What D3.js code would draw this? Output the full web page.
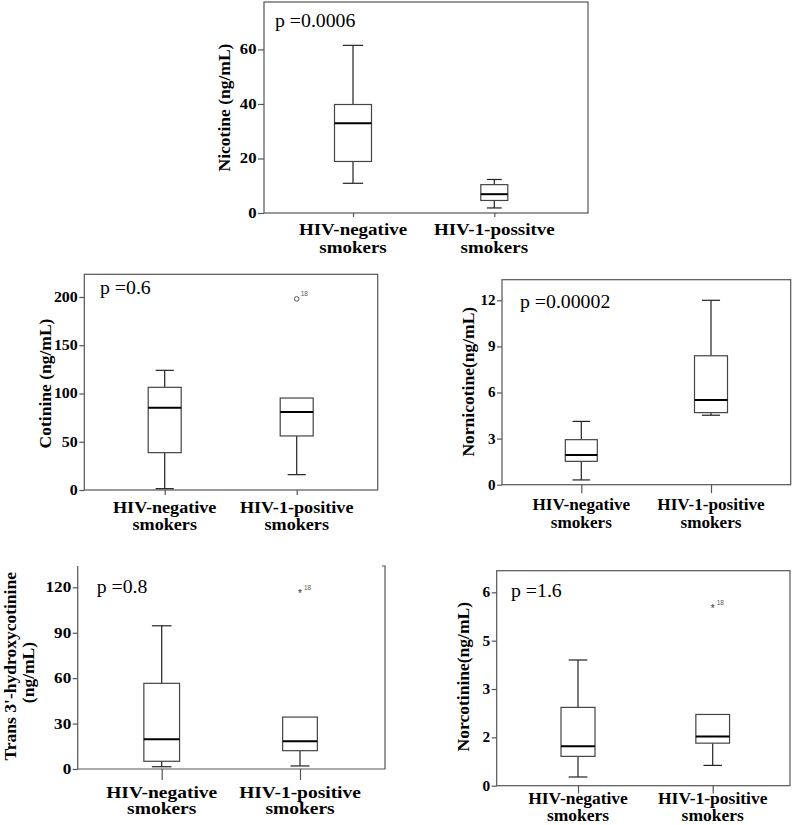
<!DOCTYPE html>
<html>
<head>
<meta charset="utf-8">
<script src="https://cdn.jsdelivr.net/npm/d3@7"></script>
<style>
  html, body { margin: 0; padding: 0; background: #fff; }
  svg { display: block; }
</style>
</head>
<body>
<svg id="chart" width="796" height="825"></svg>
<script>
// ---------------- DATA ----------------
const groupsNicotine = ["HIV-negative", "HIV-1-possitve"];
const groups = ["HIV-negative", "HIV-1-positive"];
const groupSuffix = "smokers";

// box stats: [whiskerLow, q1, median, q3, whiskerHigh]
const nicotineNeg = [10.9, 18.9, 32.9, 39.8, 61.5];
const nicotinePos = [1.85, 4.6, 6.9, 10.4, 12.3];
const cotinineNeg = [1.4, 38.7, 85.3, 106.4, 124];
const cotininePos = [15.9, 56, 80.8, 95.3, 95.3];
const cotinineOutliersPos = [198];
const nornicotineNeg = [0.31, 1.52, 1.93, 2.93, 4.12];
const nornicotinePos = [4.52, 4.69, 5.51, 8.39, 12.0];
const hydroxyNeg = [1.5, 5.1, 19.6, 56.6, 94.6];
const hydroxyPos = [2.0, 12.1, 18.3, 34.3, 34.3];
const hydroxyOutliersPos = [116.4];
const norcotinineNeg = [0.27, 0.91, 1.22, 2.43, 3.90];
const norcotininePos = [0.63, 1.32, 1.53, 2.21, 2.21];
const norcotinineOutliersPos = [5.52];
const outlierCaseId = "18";

const nicotineTicks = [0, 20, 40, 60];
const cotinineTicks = [0, 50, 100, 150, 200];
const nornicotineTicks = [0, 3, 6, 9, 12];
const hydroxyTicks = [0, 30, 60, 90, 120];
const norcotinineTicks = [0, 1.5, 3, 4.5, 6];
const norcotinineTickLabels = ["0", "2", "3", "5", "6"];

const pNicotine = "p =0.0006";
const pCotinine = "p =0.6";
const pNornicotine = "p =0.00002";
const pHydroxy = "p =0.8";
const pNorcotinine = "p =1.6";

const ylabNicotine = ["Nicotine (ng/mL)"];
const ylabCotinine = ["Cotinine (ng/mL)"];
const ylabNornicotine = ["Nornicotine(ng/mL)"];
const ylabHydroxy = ["Trans 3'-hydroxycotinine", "(ng/mL)"];
const ylabNorcotinine = ["Norcotinine(ng/mL)"];

// ---------------- PANELS (data + layout) ----------------
const panels = [
  { stats: [nicotineNeg, nicotinePos], outliers: [[], []], outMark: null,
    ticks: nicotineTicks, tickLabels: null, ylab: ylabNicotine, p: pNicotine, groups: groupsNicotine,
    L: { left: 264, right: 588, top: 2, bottom: 213, yMax: 77.4, cx: [353, 494.3], bw: [37, 27],
         ylab: [{ x: 230, y: 107.5 }], pPos: { x: 275, y: 27 }, xlabY: 235, xlabDy: 18,
         sx: 1.15, xTick: 4, yTick: 6, openTop: false } },
  { stats: [cotinineNeg, cotininePos], outliers: [[], cotinineOutliersPos], outMark: "circle",
    ticks: cotinineTicks, tickLabels: null, ylab: ylabCotinine, p: pCotinine, groups: groups,
    L: { left: 84.3, right: 377.7, top: 274.3, bottom: 490, yMax: 223.5, cx: [164.7, 296.7], bw: [33, 33],
         ylab: [{ x: 51, y: 383.5 }], pPos: { x: 100, y: 293.5 }, xlabY: 512.5, xlabDy: 18,
         sx: 1.1, xTick: 5, yTick: 5, openTop: false } },
  { stats: [nornicotineNeg, nornicotinePos], outliers: [[], []], outMark: null,
    ticks: nornicotineTicks, tickLabels: null, ylab: ylabNornicotine, p: pNornicotine, groups: groups,
    L: { left: 502, right: 790.7, top: 279.7, bottom: 484.7, yMax: 13.34, cx: [581.3, 711], bw: [32, 33],
         ylab: [{ x: 474, y: 381.7 }], pPos: { x: 520, y: 308 }, xlabY: 510, xlabDy: 18,
         sx: 1.04, xTick: 8.5, yTick: 5, openTop: false } },
  { stats: [hydroxyNeg, hydroxyPos], outliers: [[], hydroxyOutliersPos], outMark: "star",
    ticks: hydroxyTicks, tickLabels: null, ylab: ylabHydroxy, p: pHydroxy, groups: groups,
    L: { left: 77.7, right: 385, top: 566, bottom: 769, yMax: 134.1, cx: [161.7, 300], bw: [35.7, 34.7],
         ylab: [{ x: 15.5, y: 666.3 }, { x: 33.5, y: 672.5 }], pPos: { x: 96.7, y: 593 }, xlabY: 797.5, xlabDy: 17,
         sx: 1.18, xTick: 11, yTick: 5, openTop: true } },
  { stats: [norcotinineNeg, norcotininePos], outliers: [[], norcotinineOutliersPos], outMark: "star",
    ticks: norcotinineTicks, tickLabels: norcotinineTickLabels, ylab: ylabNorcotinine, p: pNorcotinine, groups: groups,
    L: { left: 496.7, right: 790, top: 570.7, bottom: 785.7, yMax: 6.67, cx: [578, 712.7], bw: [34, 33.7],
         ylab: [{ x: 469, y: 676.7 }], pPos: { x: 511, y: 597 }, xlabY: 804, xlabDy: 17,
         sx: 1.06, xTick: 7.7, yTick: 5, openTop: false } }
];

// ---------------- DRAW ----------------
const svg = d3.select("#chart");
svg.append("rect").attr("width", 796).attr("height", 825).attr("fill", "#fff");
const SERIF = "'Liberation Serif', 'Times New Roman', Times, serif";
const SANS = "'Liberation Sans', Arial, sans-serif";
const FRAME = "#555";
const BOX = "#444";

function stretchedText(g, x, y, lines, opts) {
  const t = g.append("text")
    .attr("transform", `translate(${x},${y}) scale(${opts.sx || 1},1)`)
    .attr("font-family", opts.family || SERIF)
    .attr("font-size", opts.size)
    .attr("font-weight", opts.weight || "normal")
    .attr("text-anchor", opts.anchor || "start")
    .attr("fill", opts.fill || "#000");
  if (Array.isArray(lines)) {
    lines.forEach((ln, i) => {
      t.append("tspan").attr("x", 0).attr("dy", i === 0 ? 0 : opts.lineDy).text(ln);
    });
  } else {
    t.text(lines);
  }
  if (opts.dy) t.attr("dy", opts.dy);
  return t;
}

panels.forEach(P => {
  const L = P.L;
  const g = svg.append("g");
  const y = d3.scaleLinear().domain([0, L.yMax]).range([L.bottom, L.top]);
  const x = d3.scaleOrdinal().domain(P.groups).range(L.cx);

  // frame
  if (L.openTop) {
    g.append("path")
      .attr("d", `M${L.left},${L.top}V${L.bottom}H${L.right}V${L.top}h-3`)
      .attr("fill", "none").attr("stroke", FRAME).attr("stroke-width", 1.2);
  } else {
    g.append("rect")
      .attr("x", L.left).attr("y", L.top)
      .attr("width", L.right - L.left).attr("height", L.bottom - L.top)
      .attr("fill", "none").attr("stroke", FRAME).attr("stroke-width", 1.2);
  }

  // y axis
  const yAxis = d3.axisLeft(y).tickValues(P.ticks).tickSize(L.yTick).tickPadding(2)
    .tickFormat((d, i) => P.tickLabels ? P.tickLabels[i] : d3.format("d")(d));
  const ya = g.append("g").attr("transform", `translate(${L.left},0)`).call(yAxis);
  ya.select(".domain").remove();
  ya.selectAll(".tick line").attr("stroke", FRAME).attr("stroke-width", 1.2);
  ya.selectAll(".tick text").each(function (d) {
    const s = d3.select(this);
    const txt = s.text();
    const ty = y(d);
    s.remove();
    stretchedText(ya, -(L.yTick + 1.5), ty, txt,
      { sx: L.sx, size: 14.5, weight: "bold", anchor: "end", dy: "0.34em" });
  });

  // x axis ticks
  const xAxis = d3.axisBottom(x).tickSize(L.xTick).tickFormat("");
  const xa = g.append("g").attr("transform", `translate(0,${L.bottom})`).call(xAxis);
  xa.select(".domain").remove();
  xa.selectAll(".tick line").attr("stroke", FRAME).attr("stroke-width", 1.2);

  // x labels (two lines in one text)
  P.groups.forEach(grp => {
    stretchedText(g, x(grp), L.xlabY, [grp, groupSuffix],
      { sx: L.sx, size: 16.5, weight: "bold", anchor: "middle", lineDy: L.xlabDy });
  });

  // y label
  P.ylab.forEach((line, i) => {
    g.append("text")
      .attr("transform", `translate(${L.ylab[i].x},${L.ylab[i].y}) rotate(-90)`)
      .attr("font-family", SERIF).attr("font-size", 17.5).attr("font-weight", "bold")
      .attr("text-anchor", "middle").text(line);
  });

  // p value
  stretchedText(g, L.pPos.x, L.pPos.y, P.p, { sx: 1.1, size: 18 });

  // boxes
  P.stats.forEach((s, gi) => {
    const cx = x(P.groups[gi]);
    const w = L.bw[gi];
    const cap = w * 0.55;
    const [lo, q1, med, q3, hi] = s;
    if (hi > q3) {
      g.append("line").attr("x1", cx).attr("x2", cx).attr("y1", y(q3)).attr("y2", y(hi))
        .attr("stroke", "#222").attr("stroke-width", 1.2);
      g.append("line").attr("x1", cx - cap / 2).attr("x2", cx + cap / 2).attr("y1", y(hi)).attr("y2", y(hi))
        .attr("stroke", "#222").attr("stroke-width", 1.2);
    }
    if (lo < q1) {
      g.append("line").attr("x1", cx).attr("x2", cx).attr("y1", y(q1)).attr("y2", y(lo))
        .attr("stroke", "#222").attr("stroke-width", 1.2);
      g.append("line").attr("x1", cx - cap / 2).attr("x2", cx + cap / 2).attr("y1", y(lo)).attr("y2", y(lo))
        .attr("stroke", "#222").attr("stroke-width", 1.2);
    }
    g.append("rect")
      .attr("x", cx - w / 2).attr("y", y(q3))
      .attr("width", w).attr("height", y(q1) - y(q3))
      .attr("fill", "#fff").attr("stroke", BOX).attr("stroke-width", 1.2);
    g.append("line").attr("x1", cx - w / 2).attr("x2", cx + w / 2).attr("y1", y(med)).attr("y2", y(med))
      .attr("stroke", "#000").attr("stroke-width", 2);

    P.outliers[gi].forEach(v => {
      if (P.outMark === "circle") {
        g.append("circle").attr("cx", cx).attr("cy", y(v)).attr("r", 2.3)
          .attr("fill", "none").attr("stroke", "#444").attr("stroke-width", 0.9);
      } else {
        g.append("text").attr("x", cx).attr("y", y(v) + 4.5)
          .attr("font-family", SANS).attr("font-size", 10).attr("text-anchor", "middle")
          .attr("fill", "#333").text("*");
      }
      g.append("text").attr("x", cx + 4).attr("y", y(v) - 3)
        .attr("font-family", SANS).attr("font-size", 6.5).attr("fill", "#555").text(outlierCaseId);
    });
  });
});
</script>
</body>
</html>
